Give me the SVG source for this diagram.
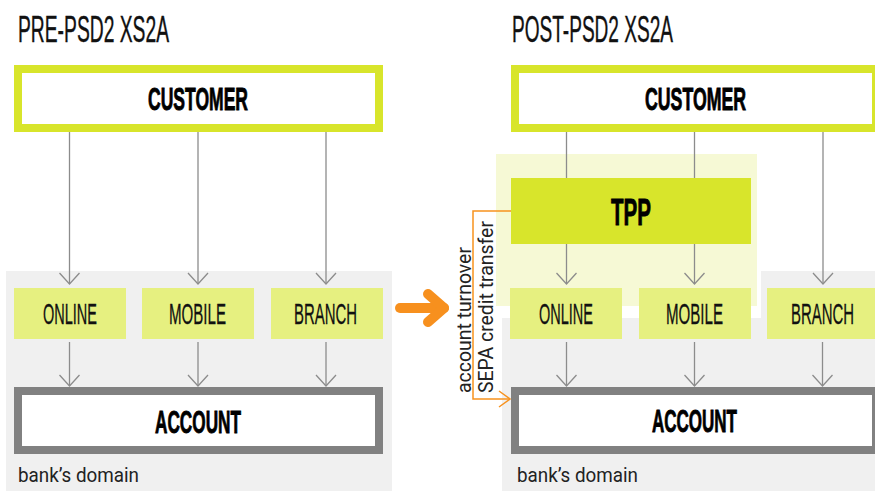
<svg xmlns="http://www.w3.org/2000/svg" width="875" height="491" viewBox="0 0 875 491">
  <style>
    .title { font-family: "Liberation Sans", Arial, sans-serif; font-size: 36px; fill: #111; stroke: #111; stroke-width: 0.4px; }
    .heavy { font-family: "Liberation Sans", Arial, sans-serif; font-weight: bold; fill: #000; stroke: #000; stroke-width: 0.9px; }
    .chan { font-family: "Liberation Sans", Arial, sans-serif; font-size: 29px; fill: #111; stroke: #111; stroke-width: 0.3px; }
    .note { font-family: Roboto, "Open Sans", sans-serif; font-size: 21px; fill: #222; }
    .domain { fill: #f0f0f0; }
    .cust { fill: #fff; stroke: #d8e52b; stroke-width: 8; }
    .acct { fill: #fff; stroke: #818181; stroke-width: 8; }
    .channel { fill: #e6f080; }
    .link { stroke: #8c8c8c; stroke-width: 1.3; fill: none; }
  </style>
  <defs>
    <marker id="chev" markerUnits="userSpaceOnUse" markerWidth="14" markerHeight="24" viewBox="-13 -12 14 24" refX="0" refY="0" orient="auto">
      <path d="M-11,-10 L0,0 L-11,10" fill="none" stroke="#8c8c8c" stroke-width="1.3"/>
    </marker>
    <marker id="chevOrange" markerUnits="userSpaceOnUse" markerWidth="16" markerHeight="20" viewBox="-13 -10 14 20" refX="0" refY="0" orient="auto">
      <path d="M-11,-8 L0,0 L-11,8" fill="none" stroke="#f7921e" stroke-width="1.5"/>
    </marker>
  </defs>

  <!-- bank's domain backgrounds -->
  <g id="domain-pre">
    <rect class="domain" x="6" y="271" width="386" height="220"/>
    <text class="note" x="18" y="482" textLength="121" lengthAdjust="spacingAndGlyphs">bank’s domain</text>
  </g>
  <g id="domain-post">
    <rect class="domain" x="502" y="271" width="373" height="220"/>
    <text class="note" x="517" y="482" textLength="121" lengthAdjust="spacingAndGlyphs">bank’s domain</text>
  </g>

  <!-- TPP zone -->
  <g id="tpp-zone">
    <rect x="496" y="154" width="265" height="164" fill="#ffffff"/>
    <rect x="496" y="154" width="261" height="152" fill="#f6f9d5"/>
  </g>

  <!-- titles -->
  <text class="title" x="18" y="42" textLength="151" lengthAdjust="spacingAndGlyphs">PRE-PSD2 XS2A</text>
  <text class="title" x="512" y="42" textLength="161" lengthAdjust="spacingAndGlyphs">POST-PSD2 XS2A</text>

  <!-- connectors -->
  <g id="connectors">
    <path class="link" d="M69.5,132 V284" marker-end="url(#chev)"/>
    <path class="link" d="M198,132 V284" marker-end="url(#chev)"/>
    <path class="link" d="M326,132 V284" marker-end="url(#chev)"/>
    <path class="link" d="M69.5,342 V386" marker-end="url(#chev)"/>
    <path class="link" d="M198,342 V386" marker-end="url(#chev)"/>
    <path class="link" d="M326,342 V386" marker-end="url(#chev)"/>

    <path class="link" d="M566.5,132 V178"/>
    <path class="link" d="M694.5,132 V178"/>
    <path class="link" d="M566.5,244 V284" marker-end="url(#chev)"/>
    <path class="link" d="M694.5,244 V284" marker-end="url(#chev)"/>
    <path class="link" d="M823,132 V284" marker-end="url(#chev)"/>
    <path class="link" d="M566.5,342 V386" marker-end="url(#chev)"/>
    <path class="link" d="M694.5,342 V386" marker-end="url(#chev)"/>
    <path class="link" d="M822.5,342 V386" marker-end="url(#chev)"/>

    <!-- TPP direct access to the account -->
    <path d="M511,211 H473 V399 H510" fill="none" stroke="#f7921e" stroke-width="1.5" marker-end="url(#chevOrange)"/>
    <text class="note" transform="translate(471,393) rotate(-90)" textLength="146" lengthAdjust="spacingAndGlyphs">account turnover</text>
    <text class="note" transform="translate(493,393) rotate(-90)" textLength="172" lengthAdjust="spacingAndGlyphs">SEPA credit transfer</text>

    <!-- transition arrow -->
    <g fill="none" stroke="#f7901e" stroke-width="10" stroke-linecap="round" stroke-linejoin="round">
      <path d="M400,308 H444"/>
      <path d="M428,294 L444,308 L428,322"/>
    </g>
  </g>

  <!-- pre-PSD2 nodes -->
  <g id="customer-pre">
    <rect class="cust" x="18" y="69" width="361" height="59"/>
    <text class="heavy" x="148" y="110" font-size="32" textLength="100" lengthAdjust="spacingAndGlyphs">CUSTOMER</text>
  </g>
  <g id="online-pre">
    <rect class="channel" x="14" y="288" width="112" height="51"/>
    <text class="chan" x="43" y="324" textLength="54" lengthAdjust="spacingAndGlyphs">ONLINE</text>
  </g>
  <g id="mobile-pre">
    <rect class="channel" x="142" y="288" width="112" height="51"/>
    <text class="chan" x="169" y="324" textLength="57" lengthAdjust="spacingAndGlyphs">MOBILE</text>
  </g>
  <g id="branch-pre">
    <rect class="channel" x="271" y="288" width="112" height="51"/>
    <text class="chan" x="294" y="324" textLength="63" lengthAdjust="spacingAndGlyphs">BRANCH</text>
  </g>
  <g id="account-pre">
    <rect class="acct" x="18" y="391" width="361" height="59"/>
    <text class="heavy" x="155" y="433" font-size="32" textLength="86" lengthAdjust="spacingAndGlyphs">ACCOUNT</text>
  </g>

  <!-- post-PSD2 nodes -->
  <g id="customer-post">
    <rect class="cust" x="515" y="69" width="361" height="59"/>
    <text class="heavy" x="645" y="110" font-size="32" textLength="101" lengthAdjust="spacingAndGlyphs">CUSTOMER</text>
  </g>
  <g id="tpp">
    <rect x="511" y="178" width="240" height="66" fill="#d8e52b"/>
    <text class="heavy" x="611" y="225" font-size="37" textLength="40" lengthAdjust="spacingAndGlyphs">TPP</text>
  </g>
  <g id="online-post">
    <rect class="channel" x="510" y="288" width="112" height="51"/>
    <text class="chan" x="539" y="324" textLength="54" lengthAdjust="spacingAndGlyphs">ONLINE</text>
  </g>
  <g id="mobile-post">
    <rect class="channel" x="639" y="288" width="112" height="51"/>
    <text class="chan" x="666" y="324" textLength="57" lengthAdjust="spacingAndGlyphs">MOBILE</text>
  </g>
  <g id="branch-post">
    <rect class="channel" x="767" y="288" width="112" height="51"/>
    <text class="chan" x="791" y="324" textLength="63" lengthAdjust="spacingAndGlyphs">BRANCH</text>
  </g>
  <g id="account-post">
    <rect class="acct" x="515" y="391" width="361" height="59"/>
    <text class="heavy" x="652" y="432" font-size="32" textLength="85" lengthAdjust="spacingAndGlyphs">ACCOUNT</text>
  </g>
</svg>
